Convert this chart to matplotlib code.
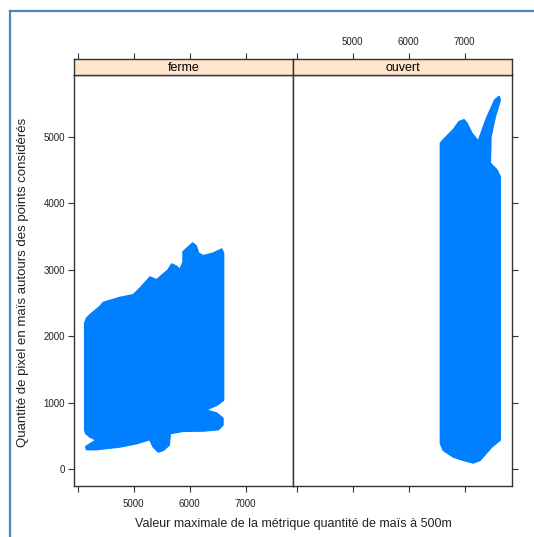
import matplotlib
matplotlib.use("Agg")
import matplotlib.pyplot as plt
from matplotlib.lines import Line2D

plt.rcParams['font.family'] = ['Liberation Sans', 'DejaVu Sans']

# outline of the point cloud (x, y)
ferme_x = [4130, 4161, 4220, 4398, 4457, 4577, 4755, 4993, 5054, 5143, 5291, 5411,
           5618, 5679, 5768, 5827, 5886, 5886, 6054, 6113, 6154, 6243, 6421, 6571,
           6600, 6600, 6482, 6273, 6482, 6589, 6589, 6511, 6243, 5886, 5648, 5630,
           5529, 5439, 5350, 5291, 5054, 4755, 4339, 4161, 4148, 4339, 4220, 4148, 4130]
ferme_y = [2197, 2268, 2318, 2443, 2503, 2533, 2578, 2619, 2668, 2744, 2885, 2844,
           2995, 3081, 3045, 2995, 3120, 3270, 3397, 3356, 3246, 3206, 3246, 3306,
           3246, 1038, 963, 888, 838, 763, 662, 597, 576, 572, 537, 361,
           286, 260, 336, 447, 387, 336, 296, 296, 336, 436, 486, 537, 587]

ouvert_x = [6571, 6571, 6618, 6796, 6904, 6988, 7036, 7125, 7243, 7393, 7541, 7613,
            7630, 7541, 7464, 7452, 7571, 7630, 7630, 7482, 7273, 7154, 6975, 6796, 6618]
ouvert_y = [387, 4902, 4951, 5102, 5227, 5252, 5203, 5052, 4926, 5278, 5553, 5603,
            5553, 5302, 5001, 4601, 4500, 4399, 436, 336, 135, 95, 135, 185, 286]

panels = ['ferme', 'ouvert']
xticks = [4000, 5000, 6000, 7000]
xticklabels = ['', '5000', '6000', '7000']
yticks = [0, 1000, 2000, 3000, 4000, 5000]

W, H = 534, 537
fig = plt.figure(figsize=(W / 100, H / 100), dpi=100)

blue = '#0080FF'
frame = '#333333'
xlim = (3939, 7850)
ylim = (-251, 5936)

data = {'ferme': (ferme_x, ferme_y), 'ouvert': (ouvert_x, ouvert_y)}
lefts = [74.3, 293.3]
pw = 219.0
ptop, pbot = 74.6, 485.7
stop = 59.3

for i, name in enumerate(panels):
    ax = fig.add_axes([lefts[i] / W, 1 - pbot / H, pw / W, (pbot - ptop) / H])
    xs, ys = data[name]
    ax.fill(xs, ys, facecolor=blue, edgecolor=blue, lw=1.5, joinstyle='round')
    ax.set_xlim(xlim)
    ax.set_ylim(ylim)
    for s in ax.spines.values():
        s.set_color(frame)
        s.set_linewidth(1.0)
    ax.set_xticks(xticks)
    ax.set_yticks(yticks)
    ax.tick_params(direction='out', length=4.5, width=0.8, color=frame,
                   labelsize=7, labelcolor='#222222')
    if i == 0:
        ax.set_xticklabels(xticklabels)
        ax.tick_params(axis='x', pad=5)
        ax.tick_params(axis='y', left=True, right=False, labelleft=True, pad=2)
    else:
        ax.set_xticklabels([])
        ax.tick_params(axis='y', left=False, right=True, labelleft=False)
        ax.set_yticklabels([])

    # strip
    st = fig.add_axes([lefts[i] / W, 1 - ptop / H, pw / W, (ptop - stop) / H])
    st.set_facecolor('#FFE5CC')
    st.set_xlim(xlim)
    st.set_yticks([])
    st.set_xticks(xticks)
    st.xaxis.tick_top()
    st.tick_params(axis='x', direction='out', length=4.5, width=0.8, color=frame,
                   labelsize=7, labelcolor='#222222', pad=4)
    if i == 1:
        st.set_xticklabels(xticklabels)
    else:
        st.set_xticklabels([])
    for s in st.spines.values():
        s.set_color(frame)
        s.set_linewidth(1.0)
    st.text(0.5, 0.45, name, transform=st.transAxes, ha='center', va='center',
            fontsize=9, color='black')

fig.text(293 / W, 1 - 524 / H, 'Valeur maximale de la métrique quantité de maïs à 500m',
         ha='center', va='center', fontsize=9, color='#222222')
fig.text(23.5 / W, 1 - 282 / H, 'Quantité de pixel en maïs autours des points considérés',
         ha='center', va='center', rotation=90, fontsize=9.5, color='#222222')

# picture border
border = '#4F81BD'
fig.add_artist(Line2D([9.5 / W, 9.5 / W], [0, 1 - 10.5 / H], color=border, lw=1.6,
                      transform=fig.transFigure))
fig.add_artist(Line2D([9.5 / W, 1], [1 - 10.5 / H, 1 - 10.5 / H], color=border, lw=1.6,
                      transform=fig.transFigure))

fig.savefig('out.png', dpi=100)
